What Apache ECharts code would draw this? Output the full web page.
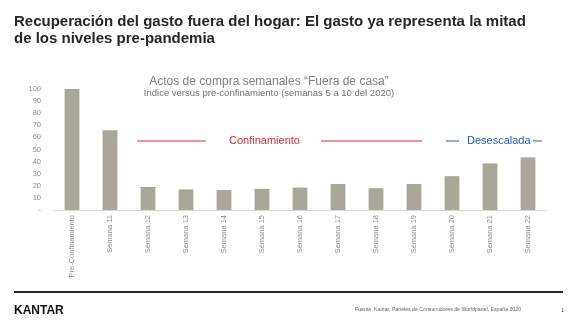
<!DOCTYPE html>
<html>
<head>
<meta charset="utf-8">
<script src="https://cdn.jsdelivr.net/npm/echarts@6/dist/echarts.min.js"></script>
<style>
html,body{margin:0;padding:0;background:#fff;}
#c{width:575px;height:335px;}
</style>
</head>
<body>
<div id="c"></div>
<script>
var categories = ['Pre-Confinamiento','Semana 11','Semana 12','Semana 13','Semana 14','Semana 15','Semana 16','Semana 17','Semana 18','Semana 19','Semana 20','Semana 21','Semana 22'];
var values = [100, 66, 19, 17, 16.5, 17.5, 18.5, 21.5, 18, 21.5, 28, 38.5, 43.5];
var yTicks = [0, 10, 20, 30, 40, 50, 60, 70, 80, 90, 100];

var FF = '"Liberation Sans", Arial, sans-serif';
var chart = echarts.init(document.getElementById('c'));
chart.setOption({
  animation: false,
  backgroundColor: '#fff',
  textStyle: { fontFamily: FF },
  title: [
    { text: 'Recuperación del gasto fuera del hogar: El gasto ya representa la mitad\nde los niveles pre-pandemia',
      left: 14, top: 13, padding: 0,
      textStyle: { fontFamily: FF, fontSize: 15, fontWeight: 'bold', color: '#262626', lineHeight: 17 } },
    { text: 'Actos de compra semanales “Fuera de casa”',
      subtext: 'Indice versus pre-confinamiento (semanas 5 a 10 del 2020)',
      left: 269, textAlign: 'center', top: 76, itemGap: 0, padding: 0,
      textStyle: { fontFamily: FF, fontSize: 12, fontWeight: 'normal', color: '#7f7f7f' },
      subtextStyle: { fontFamily: FF, fontSize: 9.5, color: '#737373' } }
  ],
  grid: { left: 53, right: 28, top: 89, bottom: 125 },
  xAxis: {
    type: 'category',
    data: categories,
    axisLine: { lineStyle: { color: '#d9d9d9' } },
    axisTick: { show: false },
    axisLabel: { rotate: 90, fontSize: 7.5, color: '#8c8c8c', margin: 5, interval: 0, fontFamily: FF }
  },
  yAxis: {
    type: 'value', min: 0, max: 100, interval: 10,
    axisLine: { show: false }, axisTick: { show: false }, splitLine: { show: false },
    axisLabel: { fontSize: 7.5, color: '#8c8c8c', margin: 12, fontFamily: FF,
      formatter: function (v) { return yTicks.indexOf(v) >= 0 ? (v === 0 ? '-' : String(v)) : ''; } }
  },
  series: [{
    type: 'bar', data: values, barWidth: '39%',
    itemStyle: { color: '#a9a898' }
  }],
  graphic: [
    { type: 'line', shape: { x1: 137, y1: 141, x2: 206, y2: 141 }, style: { stroke: '#e3262f', lineWidth: 1 } },
    { type: 'text', x: 229, y: 141, style: { text: 'Confinamiento', fill: '#e3262f', font: '11px ' + FF, textVerticalAlign: 'middle' } },
    { type: 'line', shape: { x1: 321, y1: 141, x2: 422, y2: 141 }, style: { stroke: '#e3262f', lineWidth: 1 } },
    { type: 'line', shape: { x1: 446, y1: 141, x2: 459, y2: 141 }, style: { stroke: '#1f5fbf', lineWidth: 1 } },
    { type: 'text', x: 467, y: 141, style: { text: 'Desescalada', fill: '#1f5fbf', font: '11px ' + FF, textVerticalAlign: 'middle' } },
    { type: 'line', shape: { x1: 533, y1: 141, x2: 542, y2: 141 }, style: { stroke: '#1f5fbf', lineWidth: 1 } },
    { type: 'line', shape: { x1: 14, y1: 292, x2: 563, y2: 292 }, style: { stroke: '#2b2b2b', lineWidth: 2 } },
    { type: 'text', x: 14, y: 311, style: { text: 'KANTAR', fill: '#111', font: 'bold 12px ' + FF, textVerticalAlign: 'middle' } },
    { type: 'text', x: 355, y: 310, style: { text: 'Fuente: Kantar, Paneles de Consumidores de Worldpanel, España 2020', fill: '#666', font: '5.2px ' + FF, textVerticalAlign: 'middle' } },
    { type: 'text', x: 561, y: 310, style: { text: '1', fill: '#555', font: '6px ' + FF, textVerticalAlign: 'middle' } }
  ]
});
</script>
</body>
</html>
